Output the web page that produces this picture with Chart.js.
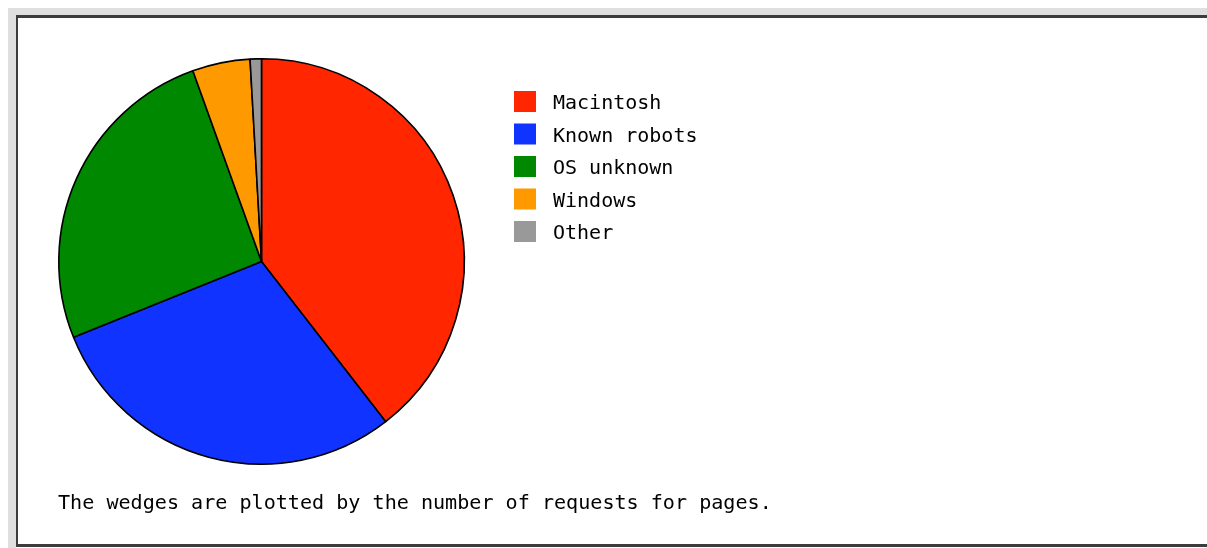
<!DOCTYPE html>
<html>
<head>
<meta charset="utf-8">
<script src="https://cdn.jsdelivr.net/npm/chart.js@4/dist/chart.umd.min.js"></script>
<style>
  html, body { margin: 0; padding: 0; background: #fff; width: 1207px; height: 548px; overflow: hidden; }
  #bandTop { position: absolute; left: 8px; top: 8px; width: 1199px; height: 7px; background: #dfdfdf; }
  #bandLeft { position: absolute; left: 8px; top: 8px; width: 8px; height: 540px; background: #dfdfdf; }
  #frame { position: absolute; left: 16px; top: 15px; width: 1200px; height: 526px;
           border-top: 3px solid #3c3c3c; border-left: 2px solid #3c3c3c; border-bottom: 3px solid #3c3c3c; background: #fff; }
  #wrap { position: absolute; left: 0; top: 0; width: 1207px; height: 548px; }
  #caption { position: absolute; left: 58px; top: 490px; font-family: "DejaVu Sans Mono", monospace; font-size: 20.1px; color: #000; white-space: pre; }
</style>
</head>
<body>
<div id="bandTop"></div>
<div id="bandLeft"></div>
<div id="frame"></div>
<div id="wrap"><canvas id="c" width="1207" height="548"></canvas></div>
<div id="caption">The wedges are plotted by the number of requests for pages.</div>
<script>
const categories = ["Macintosh", "Known robots", "OS unknown", "Windows", "Other"];
const requests = [39.5, 29.4, 25.6, 4.6, 0.9];
const colors = ["rgb(255,38,0)", "rgb(17,51,255)", "rgb(0,136,0)", "rgb(255,153,0)", "rgb(153,153,153)"];

const legendPlugin = {
  id: 'fixedLegend',
  afterDraw(chart) {
    const ctx = chart.ctx;
    ctx.save();
    ctx.font = '20px "DejaVu Sans Mono", monospace';
    ctx.textBaseline = 'alphabetic';
    chart.data.labels.forEach((lab, i) => {
      const y = 91 + i * 32.5;
      ctx.fillStyle = chart.data.datasets[0].backgroundColor[i];
      ctx.fillRect(514, y, 22, 21);
      ctx.fillStyle = '#000';
      ctx.fillText(lab, 553, y + 18);
    });
    ctx.restore();
  }
};

new Chart(document.getElementById('c'), {
  type: 'pie',
  data: {
    labels: categories,
    datasets: [{
      data: requests,
      backgroundColor: colors,
      borderColor: '#000',
      borderWidth: 1.6
    }]
  },
  options: {
    responsive: false,
    animation: false,
    layout: { padding: { left: 58, top: 58, right: 742, bottom: 83 } },
    plugins: { legend: { display: false }, tooltip: { enabled: false } }
  },
  plugins: [legendPlugin]
});
</script>
</body>
</html>
